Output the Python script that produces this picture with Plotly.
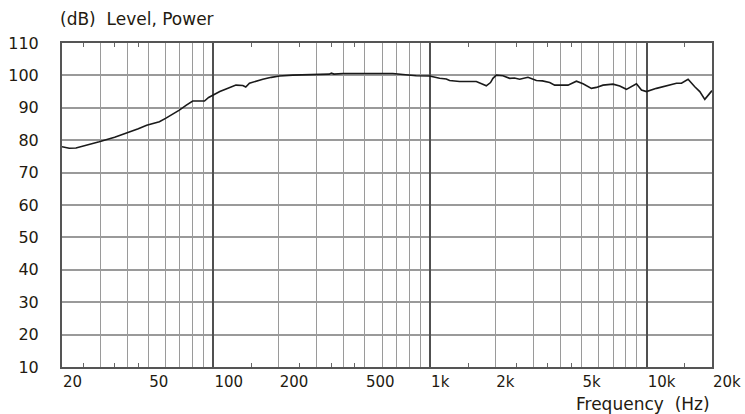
import plotly.graph_objects as go

freq = [20, 21.6, 23.2, 26, 29.7, 35, 40.2, 45, 49.2, 53, 56.3, 60.4, 65, 69.6, 75, 80.2, 85, 90.9, 95, 101,
        107, 114.4, 121, 127, 136.6, 141, 146.6, 158, 169, 185, 202, 232, 280, 343, 350, 360, 396, 500, 600, 673,
        749, 863, 994, 1106, 1188, 1230, 1368, 1634, 1750, 1817, 1900, 1950, 2021, 2168, 2329, 2450, 2590, 2829,
        3094, 3300, 3564, 3758, 4328, 4734, 5078, 5552, 5856, 6281, 6986, 7502, 8054, 8962, 9452, 9966, 11084,
        12766, 13710, 14458, 15512, 16656, 17566, 18526, 19536, 20000]
level = [78.0, 77.5, 77.6, 78.4, 79.5, 80.9, 82.3, 83.5, 84.6, 85.2, 85.7, 86.8, 88.0, 89.3, 90.8, 92.1, 92.1, 92.1, 93.2, 94.2,
         95.0, 95.8, 96.5, 97.0, 96.9, 96.4, 97.6, 98.3, 98.8, 99.4, 99.8, 100.1, 100.2, 100.4, 100.7, 100.4, 100.6, 100.6, 100.6, 100.6,
         100.3, 99.9, 99.8, 99.1, 98.9, 98.4, 98.1, 98.1, 97.3, 96.8, 97.8, 99.1, 100.1, 99.9, 99.1, 99.2, 98.8, 99.4,
         98.4, 98.3, 97.8, 97.0, 97.0, 98.2, 97.4, 96.0, 96.3, 97.0, 97.3, 96.7, 95.7, 97.4, 95.5, 95.0, 96.0,
         97.0, 97.6, 97.6, 98.8, 96.5, 95.0, 92.6, 94.5, 95.3]

grid_freqs = [20, 30, 40, 50, 60, 70, 80, 90, 100, 200, 300, 400, 500, 600, 700, 800, 900, 1000,
              2000, 3000, 4000, 5000, 6000, 7000, 8000, 9000, 10000, 20000]
label_map = {20: "20", 50: "50", 100: "100", 200: "200", 500: "500", 1000: "1k", 2000: "2k",
             5000: "5k", 10000: "10k", 20000: "20k"}
grid_text = [label_map.get(f, "") for f in grid_freqs]
decade_freqs = [100, 1000, 10000]
minor_freqs = [25, 35, 45, 150, 250, 350, 450, 1500, 2500, 3500, 4500, 15000]
y_ticks = list(range(10, 111, 10))

FONT = "DejaVu Sans"
TXT = "#231a10"

fig = go.Figure()
fig.add_trace(go.Scatter(x=freq, y=level, mode="lines", line=dict(color="#1a1a1a", width=1.6),
                         showlegend=False, hoverinfo="skip"))
fig.add_trace(go.Scatter(x=freq, y=level, xaxis="x2", mode="lines", line=dict(width=0),
                         opacity=0, showlegend=False, hoverinfo="skip"))

fig.update_layout(
    width=745, height=414,
    margin=dict(l=62, r=33, t=43, b=47, autoexpand=False),
    paper_bgcolor="white", plot_bgcolor="white",
    font=dict(family=FONT, color=TXT, size=15),
    xaxis=dict(type="log", range=[1.30103, 4.30103], tickmode="array", automargin=False,
               tickvals=grid_freqs, ticktext=grid_text, ticks="",
               ticklabelposition="outside right",
               showgrid=True, gridcolor="#9a9a9a", gridwidth=1.2,
               showline=True, linecolor="#555555", linewidth=2, mirror=True,
               zeroline=False, tickfont=dict(size=15, family=FONT, color=TXT),
               minor=dict(tickmode="array", tickvals=minor_freqs, ticks="inside",
                          ticklen=4, tickwidth=1, tickcolor="#666666", showgrid=False)),
    xaxis2=dict(type="log", range=[1.30103, 4.30103], overlaying="x", side="top", automargin=False,
                tickmode="array", tickvals=decade_freqs, showticklabels=False, ticks="",
                showgrid=True, gridcolor="#505050", gridwidth=2, zeroline=False,
                minor=dict(tickmode="array", tickvals=minor_freqs, ticks="inside",
                           ticklen=4, tickwidth=1, tickcolor="#666666", showgrid=False)),
    yaxis=dict(range=[10, 110], tickmode="array", tickvals=y_ticks, ticks="", automargin=False,
               showgrid=True, gridcolor="#9a9a9a", gridwidth=1.5, zeroline=False,
               showline=True, linecolor="#555555", linewidth=2, mirror=True,
               tickfont=dict(size=16, family=FONT, color=TXT), ticklabelstandoff=18),
    annotations=[
        dict(text="(dB)\u00a0\u00a0Level, Power", xref="paper", yref="paper", x=0, y=1,
             xanchor="left", yanchor="bottom", yshift=12, xshift=-4, showarrow=False,
             font=dict(size=17, family=FONT, color=TXT)),
        dict(text="Frequency\u00a0\u00a0(Hz)", xref="paper", yref="paper", x=1, y=0,
             xanchor="right", yanchor="top", yshift=-25, showarrow=False,
             font=dict(size=17, family=FONT, color=TXT)),
    ],
)
fig.write_html("out.html")
